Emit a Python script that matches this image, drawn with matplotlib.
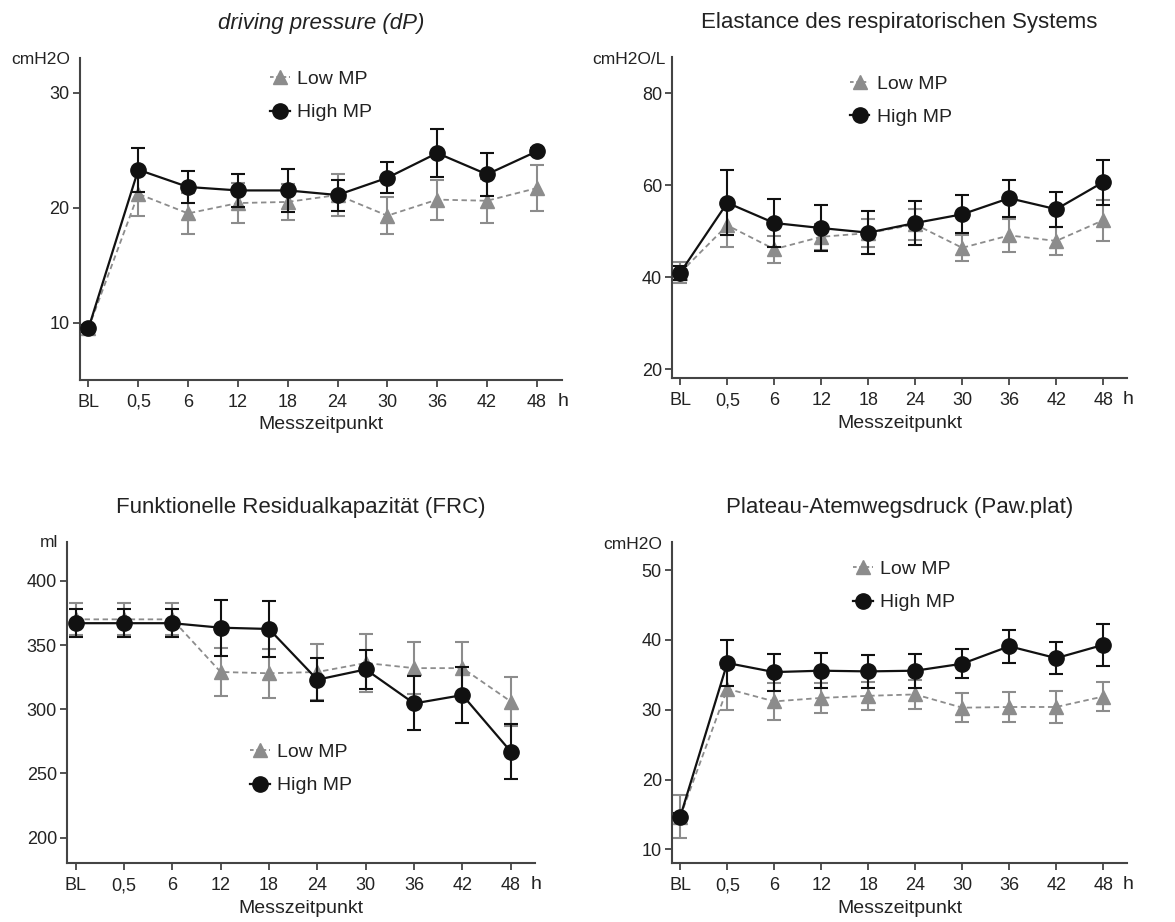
import matplotlib
matplotlib.use("Agg")
import matplotlib.pyplot as plt
from matplotlib.lines import Line2D

plt.rcParams['font.family'] = ['Liberation Sans', 'DejaVu Sans']

x_labels = ['BL', '0,5', '6', '12', '18', '24', '30', '36', '42', '48']

dp_low = [9.5, 21.2, 19.5, 20.4, 20.5, 21.1, 19.3, 20.7, 20.6, 21.7]
dp_low_sd = [0.3, 1.9, 1.75, 1.75, 1.6, 1.8, 1.6, 1.75, 1.9, 2.0]
dp_high = [9.5, 23.3, 21.8, 21.5, 21.5, 21.1, 22.6, 24.75, 22.9, 24.9]
dp_high_sd = [0.3, 1.9, 1.4, 1.45, 1.9, 1.35, 1.35, 2.1, 1.9, 0.3]

el_low = [41.0, 51.3, 46.1, 48.8, 49.6, 51.5, 46.4, 49.1, 47.9, 52.4]
el_low_sd = [2.3, 4.8, 2.9, 2.8, 3.1, 3.4, 2.8, 3.6, 3.1, 4.5]
el_high = [41.0, 56.2, 51.8, 50.7, 49.7, 51.8, 53.7, 57.2, 54.8, 60.7]
el_high_sd = [1.5, 7.1, 5.2, 5.0, 4.7, 4.7, 4.1, 4.0, 3.8, 4.9]

frc_low = [370, 370, 370, 329, 328, 329, 336, 332, 332, 306]
frc_low_sd = [12.5, 12.5, 12.5, 19, 19, 22, 22.5, 20, 20.5, 19.3]
frc_high = [367, 367, 367, 363.5, 362.5, 323, 331, 304.5, 311, 267]
frc_high_sd = [10.8, 10.8, 10.8, 21.7, 21.7, 16.8, 15.5, 21, 21.6, 21.5]

paw_low = [14.7, 33.0, 31.2, 31.7, 32.0, 32.2, 30.3, 30.4, 30.4, 31.9]
paw_low_sd = [3.05, 3.0, 2.6, 2.2, 2.0, 2.1, 2.05, 2.1, 2.3, 2.1]
paw_high = [14.7, 36.7, 35.4, 35.6, 35.5, 35.6, 36.6, 39.1, 37.4, 39.3]
paw_high_sd = [0.5, 3.25, 2.65, 2.5, 2.4, 2.45, 2.05, 2.4, 2.3, 3.0]

GRAY = '#8c8c8c'
BLACK = '#111111'
SPINE = '#444444'

W, H = 1175, 922
fig = plt.figure(figsize=(W / 100, H / 100), dpi=100)


def px_axes(left, top, right, bottom):
    return fig.add_axes([left / W, 1 - bottom / H, (right - left) / W, (bottom - top) / H])


panels = [
    dict(rect=(80, 58.3, 561.7, 380), title='driving pressure (dP)', italic=True,
         unit='cmH2O', unit_off=(-7, -1), low=dp_low, low_sd=dp_low_sd, high=dp_high,
         high_sd=dp_high_sd, ylim=(5, 33), yticks=[10, 20, 30], leg=(0.395, 0.883)),
    dict(rect=(672.3, 56.7, 1126.7, 378.3), title='Elastance des respiratorischen Systems',
         italic=False, unit='cmH2O/L', unit_off=(-5, -2), low=el_low, low_sd=el_low_sd,
         high=el_high, high_sd=el_high_sd, ylim=(18, 88), yticks=[20, 40, 60, 80],
         leg=(0.391, 0.863)),
    dict(rect=(67.3, 542.3, 535, 863.3), title='Funktionelle Residualkapazität (FRC)',
         italic=False, unit='ml', unit_off=(-6.5, 0), low=frc_low, low_sd=frc_low_sd,
         high=frc_high, high_sd=frc_high_sd, ylim=(180, 430),
         yticks=[200, 250, 300, 350, 400], leg=(0.391, 0.294)),
    dict(rect=(672.3, 542.3, 1126.7, 863.3), title='Plateau-Atemwegsdruck (Paw.plat)',
         italic=False, unit='cmH2O', unit_off=(-7.5, -1.5), low=paw_low, low_sd=paw_low_sd,
         high=paw_high, high_sd=paw_high_sd, ylim=(8, 54), yticks=[10, 20, 30, 40, 50],
         leg=(0.398, 0.864)),
]

xs = list(range(len(x_labels)))

for p in panels:
    ax = px_axes(*p['rect'])
    ax.errorbar(xs, p['low'], yerr=p['low_sd'], color=GRAY, ecolor=GRAY, lw=1.3,
                ls=(0, (3, 2)), marker='^', ms=10, mec=GRAY, mfc=GRAY,
                elinewidth=1.5, capsize=5, capthick=1.5, zorder=2)
    ax.errorbar(xs, p['high'], yerr=p['high_sd'], color=BLACK, ecolor=BLACK, lw=1.6,
                ls='-', marker='o', ms=11, mec=BLACK, mfc=BLACK,
                elinewidth=1.5, capsize=5, capthick=1.5, zorder=3)
    ax.set_xlim(-0.17, 9.5)
    ax.set_ylim(*p['ylim'])
    ax.set_xticks(xs)
    ax.set_xticklabels(x_labels)
    ax.set_yticks(p['yticks'])
    for s in ['top', 'right']:
        ax.spines[s].set_visible(False)
    for s in ['left', 'bottom']:
        ax.spines[s].set_color(SPINE)
        ax.spines[s].set_linewidth(1.5)
    ax.tick_params(axis='both', length=5, width=1.3, color=SPINE, labelsize=13,
                   labelcolor='#222222', pad=2.5)
    ax.tick_params(axis='x', pad=5)
    ax.set_xlabel('Messzeitpunkt', fontsize=14, labelpad=4, color='#222222')
    ax.set_title(p['title'], fontsize=16, pad=21, color='#222222',
                 style='italic' if p['italic'] else 'normal')
    ax.annotate(p['unit'], xy=(0, 1), xycoords='axes fraction', xytext=p['unit_off'],
                textcoords='offset points', ha='right', va='center', fontsize=12.5,
                color='#222222')
    ax.annotate('h', xy=(1, 0), xycoords='axes fraction', xytext=(1, -9.5),
                textcoords='offset points', ha='center', va='top', fontsize=14,
                color='#222222')
    handles = [
        Line2D([], [], color=GRAY, ls=(0, (2, 1.5)), lw=1.3, marker='^', ms=10,
               mfc=GRAY, mec=GRAY),
        Line2D([], [], color=BLACK, ls='-', lw=1.6, marker='o', ms=11,
               mfc=BLACK, mec=BLACK),
    ]
    ax.legend(handles, ['Low MP', 'High MP'], loc='center left',
              bbox_to_anchor=p['leg'], frameon=False, fontsize=14, handlelength=1.0,
              handletextpad=0.4, borderpad=0, borderaxespad=0, labelspacing=0.8,
              labelcolor='#222222')

fig.savefig('out.png', dpi=100)
